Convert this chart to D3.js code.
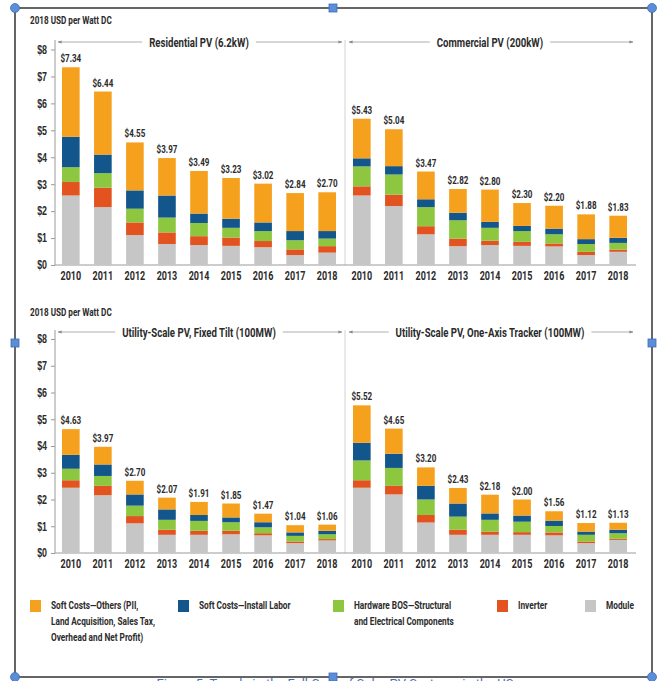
<!DOCTYPE html>
<html><head><meta charset="utf-8">
<script src="https://d3js.org/d3.v7.min.js"></script>
<style>
  body { margin: 0; background: #fff; }
  svg { display: block; font-family: Roboto, 'Liberation Sans', sans-serif; }
</style>
</head><body>
<svg width="662" height="681"></svg>
<script>
const years = [2010, 2011, 2012, 2013, 2014, 2015, 2016, 2017, 2018];
const yTicks = [0, 1, 2, 3, 4, 5, 6, 7, 8];
const segColors = ["#c6c6c6", "#e2531f", "#8dc63f", "#12568c", "#f6a11d"];

// rows: module, inverter, hardware BOS, install labor, soft costs others
const residential = [
  [2.58, 2.15, 1.11, 0.78, 0.74, 0.71, 0.66, 0.37, 0.46],
  [0.50, 0.72, 0.47, 0.43, 0.33, 0.31, 0.23, 0.21, 0.24],
  [0.55, 0.54, 0.51, 0.55, 0.49, 0.36, 0.37, 0.34, 0.28],
  [1.13, 0.69, 0.68, 0.82, 0.35, 0.34, 0.32, 0.34, 0.28],
  [2.58, 2.34, 1.78, 1.39, 1.58, 1.51, 1.44, 1.41, 1.44]
];
const residentialLabels = ["$7.34", "$6.44", "$4.55", "$3.97", "$3.49", "$3.23", "$3.02", "$2.84", "$2.70"];

const commercial = [
  [2.58, 2.19, 1.14, 0.70, 0.74, 0.71, 0.69, 0.37, 0.49],
  [0.34, 0.42, 0.30, 0.28, 0.16, 0.15, 0.11, 0.12, 0.08],
  [0.74, 0.75, 0.71, 0.68, 0.48, 0.40, 0.34, 0.29, 0.25],
  [0.30, 0.31, 0.29, 0.28, 0.22, 0.19, 0.21, 0.18, 0.19],
  [1.47, 1.37, 1.03, 0.88, 1.20, 0.85, 0.85, 0.92, 0.82]
];
const commercialLabels = ["$5.43", "$5.04", "$3.47", "$2.82", "$2.80", "$2.30", "$2.20", "$1.88", "$1.83"];

const fixedTilt = [
  [2.44, 2.16, 1.11, 0.68, 0.68, 0.70, 0.66, 0.37, 0.47],
  [0.28, 0.35, 0.27, 0.19, 0.15, 0.13, 0.08, 0.06, 0.05],
  [0.43, 0.37, 0.39, 0.37, 0.37, 0.32, 0.22, 0.21, 0.18],
  [0.52, 0.43, 0.42, 0.39, 0.22, 0.18, 0.19, 0.13, 0.13],
  [0.96, 0.66, 0.51, 0.44, 0.49, 0.52, 0.32, 0.27, 0.23]
];
const fixedTiltLabels = ["$4.63", "$3.97", "$2.70", "$2.07", "$1.91", "$1.85", "$1.47", "$1.04", "$1.06"];

const tracker = [
  [2.44, 2.19, 1.14, 0.68, 0.68, 0.68, 0.66, 0.37, 0.49],
  [0.28, 0.32, 0.28, 0.19, 0.12, 0.10, 0.11, 0.06, 0.04],
  [0.74, 0.67, 0.58, 0.49, 0.44, 0.39, 0.24, 0.25, 0.21],
  [0.66, 0.53, 0.51, 0.49, 0.24, 0.23, 0.20, 0.12, 0.13],
  [1.40, 0.94, 0.69, 0.58, 0.70, 0.60, 0.35, 0.32, 0.26]
];
const trackerLabels = ["$5.52", "$4.65", "$3.20", "$2.43", "$2.18", "$2.00", "$1.56", "$1.12", "$1.13"];

const legendLabels = [
  ["Soft Costs\u2014Others (PII,", "Land Acquisition, Sales Tax,", "Overhead and Net Profit)"],
  ["Soft Costs\u2014Install Labor"],
  ["Hardware BOS\u2014Structural", "and Electrical Components"],
  ["Inverter"],
  ["Module"]
];
const legendOrder = [4, 3, 2, 1, 0];

const svg = d3.select("svg");
const textCol = "#2b2b2b";
const axisCol = "#9a9a9a";
const SX = 0.74;   // horizontal squeeze, stands in for the condensed face

function fv(v, d, i) { return typeof v === "function" ? v(d, i) : v; }
function squeeze(sel, fx, fy, sx) {
  sel.attr("transform", (d, i) => `translate(${fv(fx, d, i)},${fv(fy, d, i)}) scale(${sx || SX},1)`);
  return sel;
}

svg.append("defs").append("marker")
  .attr("id", "arr").attr("viewBox", "0 0 10 10").attr("refX", 9).attr("refY", 5)
  .attr("markerWidth", 5).attr("markerHeight", 5).attr("orient", "auto-start-reverse")
  .append("path").attr("d", "M0,1L10,5L0,9z").attr("fill", "#8a8a8a");

const xLeft = d3.scaleBand().domain(years).range([54, 344]).paddingInner(0.45).paddingOuter(0.25);
const xRight = d3.scaleBand().domain(years).range([345, 635]).paddingInner(0.45).paddingOuter(0.25);
const yTop = d3.scaleLinear().domain([0, 8]).range([265, 49.5]);
const yBot = d3.scaleLinear().domain([0, 8]).range([553, 339]);

function row(y, titleY, unitY) {
  squeeze(svg.append("text"), 30, unitY)
    .style("font-size", "11px").style("font-weight", "bold").attr("fill", textCol)
    .text("2018 USD per Watt DC");

  const ax = svg.append("g").attr("transform", "translate(55,0)")
    .call(d3.axisLeft(y).tickValues(yTicks).tickSize(4).tickPadding(3).tickFormat(d => "$" + d));
  ax.select(".domain").remove();
  ax.selectAll(".tick line").attr("stroke", axisCol);
  ax.selectAll(".tick text").attr("fill", textCol).style("font-size", "12px")
    .style("font-family", "inherit").style("font-weight", "bold")
    .attr("x", null).attr("transform", "translate(-8,0) scale(0.74,1)");

  // axis lines
  svg.append("line").attr("x1", 55).attr("x2", 55).attr("y1", titleY - 2).attr("y2", y(0))
    .attr("stroke", axisCol);
  svg.append("line").attr("x1", 345).attr("x2", 345).attr("y1", titleY - 2).attr("y2", y(0))
    .attr("stroke", "#d2d2d2");
  svg.append("line").attr("x1", 55).attr("x2", 636).attr("y1", y(0)).attr("y2", y(0))
    .attr("stroke", axisCol);
}

function panel(x, y, data, labels, title, titleY) {
  const g = svg.append("g");
  const series = years.map((yr, i) => {
    let acc = 0;
    return data.map((s, k) => { const y0 = acc; acc += s[i]; return {yr, k, y0, y1: acc}; });
  });
  g.selectAll("g.bar").data(series).enter().append("g")
    .selectAll("rect").data(d => d).enter().append("rect")
    .attr("x", d => x(d.yr))
    .attr("width", x.bandwidth())
    .attr("y", d => y(d.y1))
    .attr("height", d => y(d.y0) - y(d.y1))
    .attr("fill", d => segColors[d.k]);

  squeeze(g.selectAll("text.val").data(series).enter().append("text"),
      d => x(d[0].yr) + x.bandwidth() / 2, d => y(d[d.length - 1].y1) - 5, 0.7)
    .attr("text-anchor", "middle")
    .style("font-size", "11.5px").style("font-weight", "bold").attr("fill", textCol)
    .text((d, i) => labels[i]);

  squeeze(g.selectAll("text.yr").data(years).enter().append("text"),
      d => x(d) + x.bandwidth() / 2, y(0) + 15, 0.72)
    .attr("text-anchor", "middle")
    .style("font-size", "12.5px").style("font-weight", "bold").attr("fill", textCol)
    .text(d => d);

  const [r0, r1] = x.range();
  const mid = (r0 + r1) / 2;
  const t = squeeze(g.append("text"), mid, titleY + 4.5)
    .attr("text-anchor", "middle")
    .style("font-size", "13px").style("font-weight", "bold").attr("fill", textCol).text(title);
  const w = t.node().getComputedTextLength() * SX;
  g.append("line").attr("x1", mid - w / 2 - 7).attr("x2", r0 + 4).attr("y1", titleY).attr("y2", titleY)
    .attr("stroke", "#9a9a9a").attr("stroke-width", 0.8).attr("marker-end", "url(#arr)");
  g.append("line").attr("x1", mid + w / 2 + 7).attr("x2", r1 - 2).attr("y1", titleY).attr("y2", titleY)
    .attr("stroke", "#9a9a9a").attr("stroke-width", 0.8).attr("marker-end", "url(#arr)");
}

row(yTop, 42, 24);
row(yBot, 332, 316);
panel(xLeft, yTop, residential, residentialLabels, "Residential PV (6.2kW)", 42);
panel(xRight, yTop, commercial, commercialLabels, "Commercial PV (200kW)", 42);
panel(xLeft, yBot, fixedTilt, fixedTiltLabels, "Utility-Scale PV, Fixed Tilt (100MW)", 332);
panel(xRight, yBot, tracker, trackerLabels, "Utility-Scale PV, One-Axis Tracker (100MW)", 332);

// legend
const legX = [30, 178, 333, 497, 585];
const lg = svg.append("g");
legendOrder.forEach((k, i) => {
  lg.append("rect").attr("x", legX[i]).attr("y", 600).attr("width", 11).attr("height", 12)
    .attr("fill", segColors[k]);
  legendLabels[i].forEach((line, j) => {
    squeeze(lg.append("text"), legX[i] + 21, 609 + j * 16, 0.72)
      .style("font-size", "11.5px").style("font-weight", "bold").attr("fill", textCol).text(line);
  });
});

// document frame with selection handles; the caption below is cut by the page edge
svg.append("text").attr("x", 335).attr("y", 688).attr("text-anchor", "middle")
  .style("font-size", "13px").attr("fill", "#4a6fb0")
  .text("Figure 5. Trends in the Full Cost of Solar PV Systems in the US");
svg.append("rect").attr("x", 15).attr("y", 8).attr("width", 637).attr("height", 669)
  .attr("fill", "none").attr("stroke", "#333").attr("stroke-width", 1.5);
const handle = "#5b8ed8";
[[15, 8], [652, 8], [15, 677], [652, 677]].forEach(p => {
  svg.append("circle").attr("cx", p[0]).attr("cy", p[1]).attr("r", 4.5)
    .attr("fill", handle).attr("stroke", "#3d6db8").attr("stroke-width", 0.8);
});
[[333, 8], [15, 343], [652, 343], [333, 677]].forEach(p => {
  svg.append("rect").attr("x", p[0] - 4).attr("y", p[1] - 4).attr("width", 8).attr("height", 8)
    .attr("fill", handle).attr("stroke", "#3d6db8").attr("stroke-width", 0.8);
});
</script>
</body></html>
